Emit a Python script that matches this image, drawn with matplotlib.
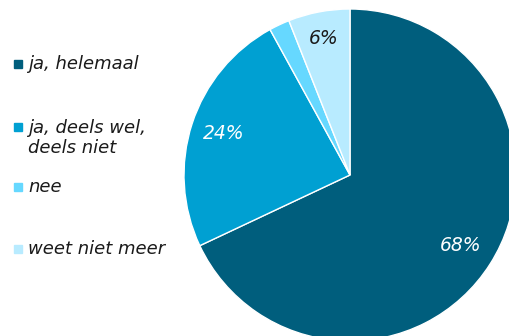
import matplotlib
matplotlib.use('Agg')
from matplotlib import pyplot as plt
from matplotlib.patches import Rectangle
import numpy as np

plt.rcParams['font.family'] = ['DejaVu Sans']

# Gegevens van de taartgrafiek
categorieen = ['ja, helemaal', 'ja, deels wel,\ndeels niet', 'nee', 'weet niet meer']
percentages = [68, 24, 2, 6]
labels_pct = ['68%', '24%', '', '6%']
kleuren = ['#005E7D', '#00A0D2', '#66D8FF', '#B8EBFF']
tekstkleuren = ['white', 'white', 'black', '#1a1a1a']

W, H = 509, 336
fig = plt.figure(figsize=(W / 100, H / 100), dpi=100)

# taart: middelpunt (350,175) px, straal 166 px
cx, cy, r = 350, 175, 166
ax = fig.add_axes([(cx - r) / W, (H - cy - r) / H, 2 * r / W, 2 * r / H])
wedges, _ = ax.pie(percentages, colors=kleuren, startangle=90, counterclock=False,
                   wedgeprops=dict(edgecolor='white', linewidth=1))
ax.set_xlim(-1, 1)
ax.set_ylim(-1, 1)
ax.set_aspect('auto')
ax.axis('off')

# percentage labels
afstanden = [0.79, 0.80, 0.8, 0.84]
start = 90
for p, lab, kl, d in zip(percentages, labels_pct, tekstkleuren, afstanden):
    mid = start - p * 3.6 / 2
    start -= p * 3.6
    if lab:
        ax.text(d * np.cos(np.radians(mid)), d * np.sin(np.radians(mid)), lab,
                ha='center', va='center', color=kl, fontsize=13.5, style='italic')

# legenda links
legenda_y = [64, 138, 187, 249]
blok_y = [64, 127, 187, 249]
for naam, kl, ty, by in zip(categorieen, kleuren, legenda_y, blok_y):
    fig.patches.append(Rectangle((14 / W, 1 - (by + 4) / H), 8 / W, 8 / H,
                                 transform=fig.transFigure, color=kl))
    fig.text(28 / W, 1 - ty / H, naam, ha='left', va='center', fontsize=13,
             style='italic', color='#1a1a1a', linespacing=1.15)

fig.savefig('out.png', dpi=100)
